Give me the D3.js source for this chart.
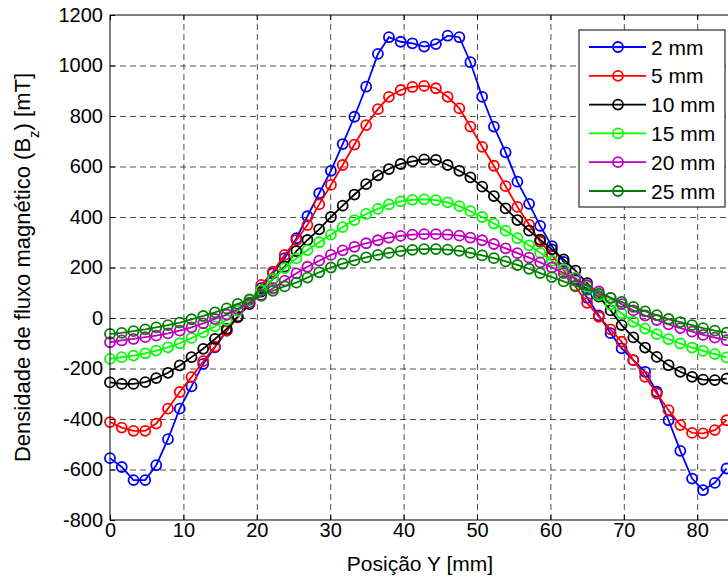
<!DOCTYPE html>
<html>
<head>
<meta charset="utf-8">
<script src="https://cdn.jsdelivr.net/npm/d3@7"></script>
<style>
  body { margin: 0; background: #fff; }
  svg { display: block; font-family: "Liberation Sans", Arial, sans-serif; }
</style>
</head>
<body>
<div id="container"></div>
<script>
"use strict";

// SECTION: data
// sample positions along Y [mm]
const posY = [0, 1.6, 3.2, 4.8, 6.3, 7.9, 9.5, 11.1, 12.7, 14.3, 15.9, 17.4, 19.0, 20.6,
  22.2, 23.8, 25.4, 26.9, 28.5, 30.1, 31.7, 33.3, 34.9, 36.5, 38.0, 39.6, 41.2, 42.8,
  44.4, 46.0, 47.6, 49.1, 50.7, 52.3, 53.9, 55.5, 57.1, 58.6, 60.2, 61.8, 63.4, 65.0,
  66.6, 68.2, 69.7, 71.3, 72.9, 74.5, 76.1, 77.7, 79.3, 80.8, 82.4, 84.0];

// Bz [mT] for each distance
const bz2mm = [-555, -590, -642, -642, -583, -480, -359, -271, -182, -116, -50, 5, 60, 118,
  177, 237, 316, 403, 494, 583, 689, 797, 916, 1046, 1112, 1094, 1088, 1075,
  1085, 1118, 1112, 1013, 876, 758, 656, 540, 452, 365, 285, 222, 150, 80,
  10, -60, -120, -167, -213, -292, -405, -526, -636, -682, -653, -596];
const bz5mm = [-412, -434, -447, -447, -418, -359, -293, -234, -171, -113, -50, 3, 60, 131,
  184, 250, 309, 368, 450, 527, 606, 687, 764, 827, 876, 903, 915, 919,
  910, 876, 830, 758, 678, 603, 522, 440, 370, 302, 250, 190, 125, 60,
  5, -45, -94, -167, -233, -299, -365, -424, -455, -457, -444, -405];
const bz10mm = [-255, -261, -261, -254, -238, -217, -188, -155, -122, -83, -43, 5, 55, 105,
  155, 203, 265, 309, 351, 400, 445, 489, 530, 565, 590, 610, 620, 628,
  626, 606, 583, 557, 520, 483, 434, 388, 346, 310, 272, 232, 188, 138,
  85, 30, -28, -77, -117, -154, -187, -213, -233, -244, -246, -240];
const bz15mm = [-162, -155, -149, -140, -129, -116, -100, -79, -57, -33, -8, 28, 70, 110,
  155, 198, 236, 269, 300, 330, 360, 388, 412, 432, 450, 462, 468, 470,
  467, 458, 443, 423, 400, 374, 346, 316, 288, 258, 226, 193, 160, 125,
  90, 53, 18, -15, -42, -64, -84, -101, -117, -130, -143, -156];
const bz20mm = [-96, -89, -83, -76, -70, -61, -50, -37, -21, -4, 13, 35, 60, 88,
  118, 148, 177, 203, 227, 250, 268, 282, 296, 308, 318, 325, 330, 332,
  332, 330, 326, 318, 308, 293, 276, 257, 239, 220, 200, 178, 155, 130,
  105, 80, 55, 30, 10, -8, -25, -40, -54, -67, -78, -88];
const bz25mm = [-63, -59, -52, -45, -37, -28, -18, -5, 8, 22, 38, 56, 74, 91,
  108, 125, 140, 160, 181, 200, 215, 228, 240, 250, 258, 265, 270, 273,
  273, 271, 266, 258, 248, 237, 224, 210, 195, 178, 162, 145, 128, 112,
  96, 80, 64, 44, 26, 11, -4, -16, -28, -40, -50, -58];

const seriesNames = ["2 mm", "5 mm", "10 mm", "15 mm", "20 mm", "25 mm"];
const seriesValues = [bz2mm, bz5mm, bz10mm, bz15mm, bz20mm, bz25mm];
const seriesColors = ["#0000ff", "#ff0000", "#000000", "#00ff00", "#bf00bf", "#008000"];

const xTicks = [0, 10, 20, 30, 40, 50, 60, 70, 80];
const yTicks = [-800, -600, -400, -200, 0, 200, 400, 600, 800, 1000, 1200];

// SECTION: layout
const W = 728, H = 580;
const plotLeft = 110, plotTop = 15, plotBottom = 520;
const markerR = 5;
// plain labels, hyphen minus like the original
const plainFmt = d => String(d);

let svg = d3.select("#container")
    .append("svg")
    .attr("width", W)
    .attr("height", H);

// x goes a bit past the picture edge, the figure is cut there
var x = d3.scaleLinear()
  .domain([0, 90])
  .range([plotLeft, plotLeft + 90 * 7.34]);

var y = d3.scaleLinear()
  .domain([-800, 1200])
  .range([plotBottom, plotTop]);

// grid lines (dashed)
svg.append("g")
  .attr("class", "grid")
  .attr("transform", "translate(0," + plotBottom + ")")
  .call(d3.axisBottom(x).tickValues(xTicks.filter(d => d > 0)).tickSize(-(plotBottom - plotTop)).tickFormat(""))
  .call(g => g.select(".domain").remove());

svg.append("g")
  .attr("class", "grid")
  .attr("transform", "translate(" + plotLeft + ",0)")
  .call(d3.axisLeft(y).tickValues(yTicks.filter(d => d > -800 && d < 1200)).tickSize(-(W - plotLeft + 50)).tickFormat(""))
  .call(g => g.select(".domain").remove());

svg.selectAll(".grid line")
  .attr("stroke", "#222")
  .attr("stroke-width", 0.8)
  .attr("stroke-dasharray", "6,4");

// the curves
const line = d3.line()
  .x((d, i) => x(posY[i]))
  .y(d => y(d));

seriesValues.forEach(function(vals, k) {
  let g = svg.append("g").attr("class", "series");
  g.append("path")
    .datum(vals)
    .attr("d", line)
    .attr("fill", "none")
    .attr("stroke", seriesColors[k])
    .attr("stroke-width", 1.8);
  g.selectAll("circle")
    .data(vals)
    .enter()
    .append("circle")
      .attr("cx", (d, i) => x(posY[i]))
      .attr("cy", d => y(d))
      .attr("r", markerR)
      .attr("fill", "none")
      .attr("stroke", seriesColors[k])
      .attr("stroke-width", 1.8);
});

// axes frame + inward ticks
let xAxis = svg.append("g")
  .attr("transform", "translate(0," + plotBottom + ")")
  .call(d3.axisBottom(x).tickValues(xTicks).tickSize(-5).tickPadding(3).tickFormat(plainFmt));
let xAxisTop = svg.append("g")
  .attr("transform", "translate(0," + plotTop + ")")
  .call(d3.axisTop(x).tickValues(xTicks).tickSize(-5).tickFormat(""));
let yAxis = svg.append("g")
  .attr("transform", "translate(" + plotLeft + ",0)")
  .call(d3.axisLeft(y).tickValues(yTicks).tickSize(-5).tickPadding(7).tickFormat(plainFmt));

[xAxis, xAxisTop, yAxis].forEach(a => {
  a.select(".domain").remove();
  a.selectAll("line").attr("stroke", "#000");
  a.selectAll("text")
    .style("font-family", "'Liberation Sans', Arial, sans-serif")
    .style("font-size", "20px")
    .attr("fill", "#000");
});

svg.append("path")
  .attr("d", "M" + W + "," + plotTop + "H" + plotLeft + "V" + plotBottom + "H" + W)
  .attr("fill", "none")
  .attr("stroke", "#000")
  .attr("stroke-width", 1);

// axis titles
svg.append("text")
  .attr("x", 420)
  .attr("y", 571)
  .attr("text-anchor", "middle")
  .style("font-size", "21px")
  .text("Posição Y [mm]");

let yTitle = svg.append("text")
  .attr("transform", "translate(30," + ((plotTop + plotBottom) / 2) + ") rotate(-90)")
  .attr("text-anchor", "middle")
  .style("font-size", "22px");
yTitle.append("tspan").text("Densidade de fluxo magnético (B");
yTitle.append("tspan").attr("baseline-shift", "sub").style("font-size", "15px").text("z");
yTitle.append("tspan").text(") [mT]");

// SECTION: legend
let legend = svg.append("g").attr("class", "legend");
legend.append("rect")
  .attr("x", 579).attr("y", 30)
  .attr("width", 146).attr("height", 177)
  .attr("fill", "#fff")
  .attr("stroke", "#000");

seriesNames.forEach(function(name, k) {
  let ly = 47 + k * 28.8;
  legend.append("line")
    .attr("x1", 589).attr("x2", 646)
    .attr("y1", ly).attr("y2", ly)
    .attr("stroke", seriesColors[k])
    .attr("stroke-width", 1.8);
  legend.append("circle")
    .attr("cx", 618).attr("cy", ly).attr("r", markerR)
    .attr("fill", "none")
    .attr("stroke", seriesColors[k])
    .attr("stroke-width", 1.8);
  legend.append("text")
    .attr("x", 651).attr("y", ly)
    .attr("dy", "0.36em")
    .style("font-size", "21px")
    .text(name);
});
</script>
</body>
</html>
